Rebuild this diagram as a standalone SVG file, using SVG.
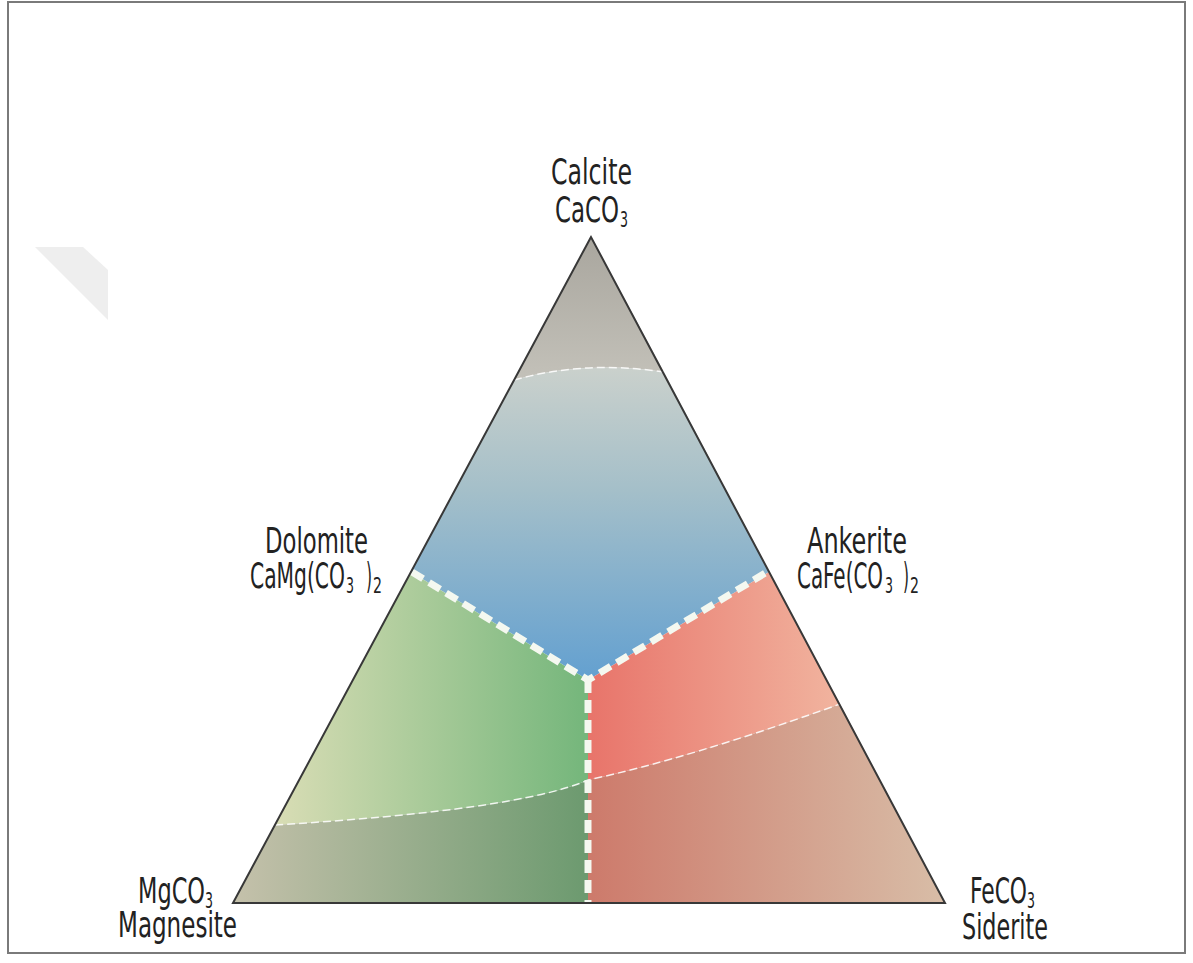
<svg xmlns="http://www.w3.org/2000/svg" width="1193" height="963" viewBox="0 0 1193 963">
<defs>
<style>
.lbl{font-family:"DejaVu Sans Condensed","DejaVu Sans",sans-serif;font-stretch:condensed;font-size:35px;fill:#222;}
.sub{font-size:22px;}
.dash{fill:none;stroke:#f4f8f0;stroke-width:7;stroke-dasharray:13 7;}
.thin{fill:none;stroke:#ffffff;stroke-width:1.5;stroke-dasharray:8 4;opacity:0.85;}
</style>
<linearGradient id="gCap" x1="0" y1="237" x2="0" y2="380" gradientUnits="userSpaceOnUse">
<stop offset="0" stop-color="#a9a69e"/><stop offset="1" stop-color="#c3c1b9"/>
</linearGradient>
<linearGradient id="gBlue" x1="0" y1="365" x2="0" y2="680" gradientUnits="userSpaceOnUse">
<stop offset="0" stop-color="#cbd1cc"/><stop offset="0.4" stop-color="#a4bfc9"/><stop offset="1" stop-color="#63a0d0"/>
</linearGradient>
<linearGradient id="gGreenU" x1="275" y1="0" x2="588" y2="0" gradientUnits="userSpaceOnUse">
<stop offset="0" stop-color="#d9ddb5"/><stop offset="1" stop-color="#74b67b"/>
</linearGradient>
<linearGradient id="gGreenL" x1="233" y1="0" x2="588" y2="0" gradientUnits="userSpaceOnUse">
<stop offset="0" stop-color="#c5c1ab"/><stop offset="1" stop-color="#6c9a6f"/>
</linearGradient>
<linearGradient id="gRedU" x1="588" y1="0" x2="840" y2="0" gradientUnits="userSpaceOnUse">
<stop offset="0" stop-color="#e8746a"/><stop offset="1" stop-color="#f1b49f"/>
</linearGradient>
<linearGradient id="gRedL" x1="588" y1="0" x2="945" y2="0" gradientUnits="userSpaceOnUse">
<stop offset="0" stop-color="#cd7a6b"/><stop offset="1" stop-color="#d8bda7"/>
</linearGradient>
</defs>
<rect x="0" y="0" width="1193" height="963" fill="#ffffff"/>
<rect x="8" y="2" width="1177" height="951" fill="none" stroke="#7a7a7a" stroke-width="2"/>
<polygon points="35,247 83,247 108,270 108,320" fill="#eeeeee"/>

<g id="regions">
<path d="M591,237 L514,380 Q585,360 664,372 Z" fill="url(#gCap)"/>
<path d="M514,380 Q585,360 664,372 L769,572 L588,680 L411,572 Z" fill="url(#gBlue)"/>
<path d="M411,572 L588,680 L588,780 Q520,810 275,825 Z" fill="url(#gGreenU)"/>
<path d="M275,825 Q520,810 588,780 L588,903 L233,903 Z" fill="url(#gGreenL)"/>
<path d="M588,680 L769,572 L840,704 Q690,758 588,780 Z" fill="url(#gRedU)"/>
<path d="M588,780 Q690,758 840,704 L945,903 L588,903 Z" fill="url(#gRedL)"/>
</g>

<g id="connectors">
<path class="thin" d="M514,380 Q585,360 664,372" stroke-dasharray="none" opacity="0.5"/>
<path class="thin" d="M275,825 Q520,810 588,780 Q690,758 840,704"/>
<polyline class="dash" points="412,572 588,680 767,572"/>
<line class="dash" x1="588" y1="680" x2="588" y2="903"/>
</g>

<polygon id="triangle" points="591,237 233,903 945,903" fill="none" stroke="#383838" stroke-width="2" stroke-linejoin="miter"/>

<g id="calcite">
<text class="lbl" x="551" y="184" textLength="81" lengthAdjust="spacingAndGlyphs">Calcite</text>
<text class="lbl" y="222"><tspan x="555" textLength="64" lengthAdjust="spacingAndGlyphs">CaCO</tspan><tspan class="sub" x="620" dy="5" textLength="8" lengthAdjust="spacingAndGlyphs">3</tspan></text>
</g>
<g id="dolomite">
<text class="lbl" x="265" y="553" textLength="103" lengthAdjust="spacingAndGlyphs">Dolomite</text>
<text class="lbl" y="588"><tspan x="250" textLength="95" lengthAdjust="spacingAndGlyphs">CaMg(CO</tspan><tspan class="sub" x="346" dy="5" textLength="8" lengthAdjust="spacingAndGlyphs">3</tspan><tspan x="366" dy="-5" textLength="6" lengthAdjust="spacingAndGlyphs">)</tspan><tspan class="sub" x="373" dy="5" textLength="9" lengthAdjust="spacingAndGlyphs">2</tspan></text>
</g>
<g id="ankerite">
<text class="lbl" x="807" y="553" textLength="100" lengthAdjust="spacingAndGlyphs">Ankerite</text>
<text class="lbl" y="588"><tspan x="797" textLength="86" lengthAdjust="spacingAndGlyphs">CaFe(CO</tspan><tspan class="sub" x="885" dy="5" textLength="8" lengthAdjust="spacingAndGlyphs">3</tspan><tspan x="903" dy="-5" textLength="6" lengthAdjust="spacingAndGlyphs">)</tspan><tspan class="sub" x="910" dy="5" textLength="9" lengthAdjust="spacingAndGlyphs">2</tspan></text>
</g>
<g id="magnesite">
<text class="lbl" y="903"><tspan x="138" textLength="67" lengthAdjust="spacingAndGlyphs">MgCO</tspan><tspan class="sub" x="205" dy="5" textLength="8" lengthAdjust="spacingAndGlyphs">3</tspan></text>
<text class="lbl" x="118" y="937" textLength="119" lengthAdjust="spacingAndGlyphs">Magnesite</text>
</g>
<g id="siderite">
<text class="lbl" y="903"><tspan x="970" textLength="57" lengthAdjust="spacingAndGlyphs">FeCO</tspan><tspan class="sub" x="1027" dy="5" textLength="8" lengthAdjust="spacingAndGlyphs">3</tspan></text>
<text class="lbl" x="962" y="939" textLength="86" lengthAdjust="spacingAndGlyphs">Siderite</text>
</g>
</svg>
